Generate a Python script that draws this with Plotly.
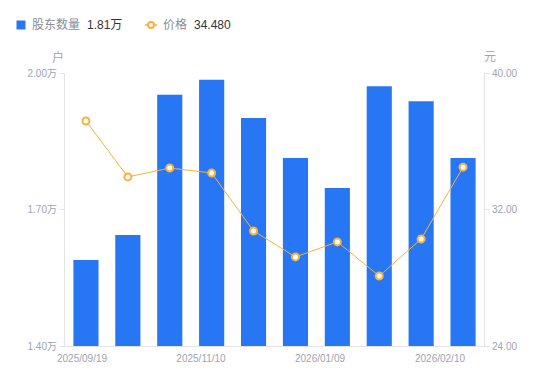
import plotly.graph_objects as go

dates = ["2025/09/19", "2025/09/30", "2025/10/20", "2025/11/10", "2025/11/28",
         "2025/12/19", "2026/01/09", "2026/01/20", "2026/01/30", "2026/02/10"]
holders_wan = [1.589, 1.644, 1.952, 1.985, 1.901, 1.813, 1.747, 1.971, 1.938, 1.813]
price = [37.19, 33.91, 34.43, 34.14, 30.74, 29.22, 30.10, 28.10, 30.27, 34.48]
tick_labels = ["2025/09/19", "2025/11/10", "2026/01/09", "2026/02/10"]
y_ticks = [1.40, 1.70, 2.00]
y2_ticks = [24, 32, 40]

BLUE = "#2777f5"
ORANGE = "#f9b03c"
GRAY = "#a0a3b4"
LEG_GRAY = "#8a8d99"
DARK = "#333333"
AXIS = "#e3e3e8"
FONT = "Liberation Sans, Noto Sans CJK SC, sans-serif"

# page body has an 8px default margin; the figure is placed at (8, 8)
OFF = 8
W, H = 550 - OFF, 381 - OFF
# plot area in page pixels: x 65..484, y 73..346
L, T = 65 - OFF, 73 - OFF
R = W - (484 - OFF)
B = H - (346 - OFF)
PW, PH = W - L - R, H - T - B


def px(xp):
    return (xp - OFF - L) / PW


def py(yp):
    return (H - B - (yp - OFF)) / PH


x = list(range(len(dates)))

fig = go.Figure()
fig.add_trace(go.Bar(
    x=x, y=holders_wan, marker=dict(color=BLUE, line=dict(width=0)),
    width=0.6, name="股东数量", yaxis="y", hoverinfo="y",
))
fig.add_trace(go.Scatter(
    x=x, y=price, mode="lines+markers",
    line=dict(color=ORANGE, width=1),
    marker=dict(color="white", size=7, line=dict(color=ORANGE, width=2)),
    name="价格", yaxis="y2",
))

annotations = [
    dict(text="户", xref="paper", yref="paper", x=px(58), y=py(57),
         xanchor="center", yanchor="middle", showarrow=False,
         font=dict(size=12, color=GRAY)),
    dict(text="元", xref="paper", yref="paper", x=px(490), y=py(57),
         xanchor="center", yanchor="middle", showarrow=False,
         font=dict(size=12, color=GRAY)),
    # legend texts
    dict(text="股东数量", xref="paper", yref="paper", x=px(30), y=py(25),
         xanchor="left", yanchor="middle", showarrow=False,
         font=dict(size=12, color=LEG_GRAY)),
    dict(text="%.2f万" % holders_wan[-1], xref="paper", yref="paper", x=px(85), y=py(25),
         xanchor="left", yanchor="middle", showarrow=False,
         font=dict(size=12, color=DARK)),
    dict(text="价格", xref="paper", yref="paper", x=px(161), y=py(25),
         xanchor="left", yanchor="middle", showarrow=False,
         font=dict(size=12, color=LEG_GRAY)),
    dict(text="%.3f" % price[-1], xref="paper", yref="paper", x=px(192), y=py(25),
         xanchor="left", yanchor="middle", showarrow=False,
         font=dict(size=12, color=DARK)),
]

shapes = [
    dict(type="rect", xref="paper", yref="paper", x0=px(16.5), x1=px(25.5),
         y0=py(29.5), y1=py(20.5), fillcolor=BLUE, line=dict(width=0)),
    dict(type="line", xref="paper", yref="paper", x0=px(145), x1=px(157),
         y0=py(25), y1=py(25), line=dict(color=ORANGE, width=1.5)),
    dict(type="circle", xref="paper", yref="paper", x0=px(148), x1=px(154),
         y0=py(28), y1=py(22), fillcolor="white", line=dict(color=ORANGE, width=2)),
]

fig.update_layout(
    width=W, height=H,
    margin=dict(l=L, r=R, t=T, b=B, autoexpand=False),
    paper_bgcolor="white", plot_bgcolor="white",
    font=dict(family=FONT, size=10, color=GRAY),
    showlegend=False,
    xaxis=dict(
        type="linear", range=[-0.5, len(dates) - 0.5],
        tickmode="array",
        tickvals=[-0.094, 2.746, 5.586, 8.45],
        ticktext=tick_labels,
        showgrid=False, zeroline=False,
        showline=True, linecolor=AXIS, linewidth=1,
        ticks="outside", ticklen=3, tickcolor="rgba(0,0,0,0)",
        tickfont=dict(size=10, color=GRAY),
    ),
    yaxis=dict(
        range=[1.40, 2.00], tickmode="array", tickvals=y_ticks,
        ticktext=["%.2f万" % v for v in y_ticks],
        showgrid=False, zeroline=False,
        showline=True, linecolor=AXIS, linewidth=1,
        ticks="outside", ticklen=5, tickcolor=AXIS,
        tickfont=dict(size=10, color=GRAY),
    ),
    yaxis2=dict(
        range=[24, 40], tickmode="array", tickvals=y2_ticks,
        ticktext=["%.2f" % v for v in y2_ticks],
        overlaying="y", side="right",
        showgrid=False, zeroline=False,
        showline=True, linecolor=AXIS, linewidth=1,
        ticks="outside", ticklen=5, tickcolor=AXIS,
        tickfont=dict(size=10, color=GRAY),
    ),
    annotations=annotations,
    shapes=shapes,
)

fig.write_html("out.html")
